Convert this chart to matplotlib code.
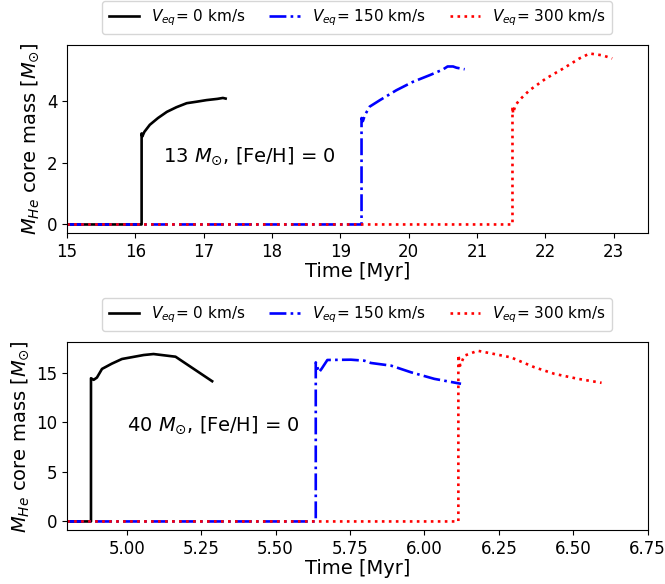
import matplotlib

matplotlib.use("Agg")
import matplotlib.pyplot as plt

# 13 Msun models
t13_v0 = [15.0, 16.09, 16.09, 16.10, 16.13, 16.21, 16.33, 16.46, 16.60, 16.75, 16.90, 17.04, 17.20, 17.28, 17.32]
m13_v0 = [0, 0, 2.95, 2.85, 3.0, 3.23, 3.45, 3.65, 3.80, 3.93, 3.98, 4.03, 4.07, 4.10, 4.08]
t13_v150 = [15.0, 19.31, 19.31, 19.33, 19.36, 19.43, 19.58, 19.82, 20.06, 20.31, 20.50, 20.57, 20.65, 20.70, 20.82]
m13_v150 = [0, 0, 3.45, 3.35, 3.55, 3.82, 4.03, 4.35, 4.62, 4.84, 5.02, 5.12, 5.12, 5.08, 5.03]
t13_v300 = [15.0, 21.52, 21.52, 21.53, 21.56, 21.62, 21.77, 22.01, 22.26, 22.50, 22.65, 22.84, 22.98]
m13_v300 = [0, 0, 3.82, 3.60, 3.85, 4.03, 4.35, 4.73, 5.05, 5.38, 5.54, 5.48, 5.38]

# 40 Msun models
t40_v0 = [4.8, 4.88, 4.88, 4.889, 4.90, 4.917, 4.95, 4.984, 5.057, 5.09, 5.164, 5.287]
m40_v0 = [0, 0, 14.43, 14.27, 14.5, 15.37, 15.9, 16.37, 16.77, 16.87, 16.6, 14.13]
t40_v150 = [4.8, 5.635, 5.635, 5.646, 5.655, 5.674, 5.753, 5.798, 5.82, 5.888, 5.955, 6.033, 6.123]
m40_v150 = [0, 0, 16.03, 15.03, 15.4, 16.27, 16.3, 16.2, 15.97, 15.7, 15.03, 14.37, 13.87]
t40_v300 = [4.8, 6.114, 6.114, 6.12, 6.134, 6.179, 6.235, 6.291, 6.37, 6.437, 6.516, 6.595]
m40_v300 = [0, 0, 16.77, 15.7, 16.7, 17.2, 16.87, 16.53, 15.53, 14.87, 14.37, 13.97]

labels = [r"$V_{eq}$= 0 km/s", r"$V_{eq}$= 150 km/s", r"$V_{eq}$= 300 km/s"]
colors = ["black", "blue", "red"]
styles = ["-", "-.", ":"]

panels = [
    ([t13_v0, t13_v150, t13_v300], [m13_v0, m13_v150, m13_v300],
     (15, 23.5), r"13 $M_{\odot}$, [Fe/H] = 0", (16.4, 2.2)),
    ([t40_v0, t40_v150, t40_v300], [m40_v0, m40_v150, m40_v300],
     (4.8, 6.75), r"40 $M_{\odot}$, [Fe/H] = 0", (5.0, 9.7)),
]

fig = plt.figure(figsize=(6.65, 5.84), dpi=100)
ax_top = fig.add_axes([0.101, 0.601, 0.873, 0.322])
ax_bot = fig.add_axes([0.101, 0.0925, 0.873, 0.3215])

for ax, (times, masses, xlim, note, note_pos) in zip([ax_top, ax_bot], panels):
    for t, m, c, ls, lab in zip(times, masses, colors, styles, labels):
        ax.plot(t, m, color=c, linestyle=ls, linewidth=1.9, label=lab)
    ax.set_xlim(*xlim)
    ax.set_xlabel("Time [Myr]", fontsize=14, labelpad=1)
    ax.set_ylabel(r"$M_{He}$ core mass [$M_{\odot}$]", fontsize=14)
    ax.tick_params(labelsize=12)
    ax.text(note_pos[0], note_pos[1], note, fontsize=14, va="center")
    ax.legend(loc="lower center", bbox_to_anchor=(0.5, 1.06), ncol=3,
              fontsize=11, borderaxespad=0, columnspacing=1.55)

ax_bot.set_xticks([5.0, 5.25, 5.5, 5.75, 6.0, 6.25, 6.5, 6.75])

fig.savefig("out.png", dpi=100)
